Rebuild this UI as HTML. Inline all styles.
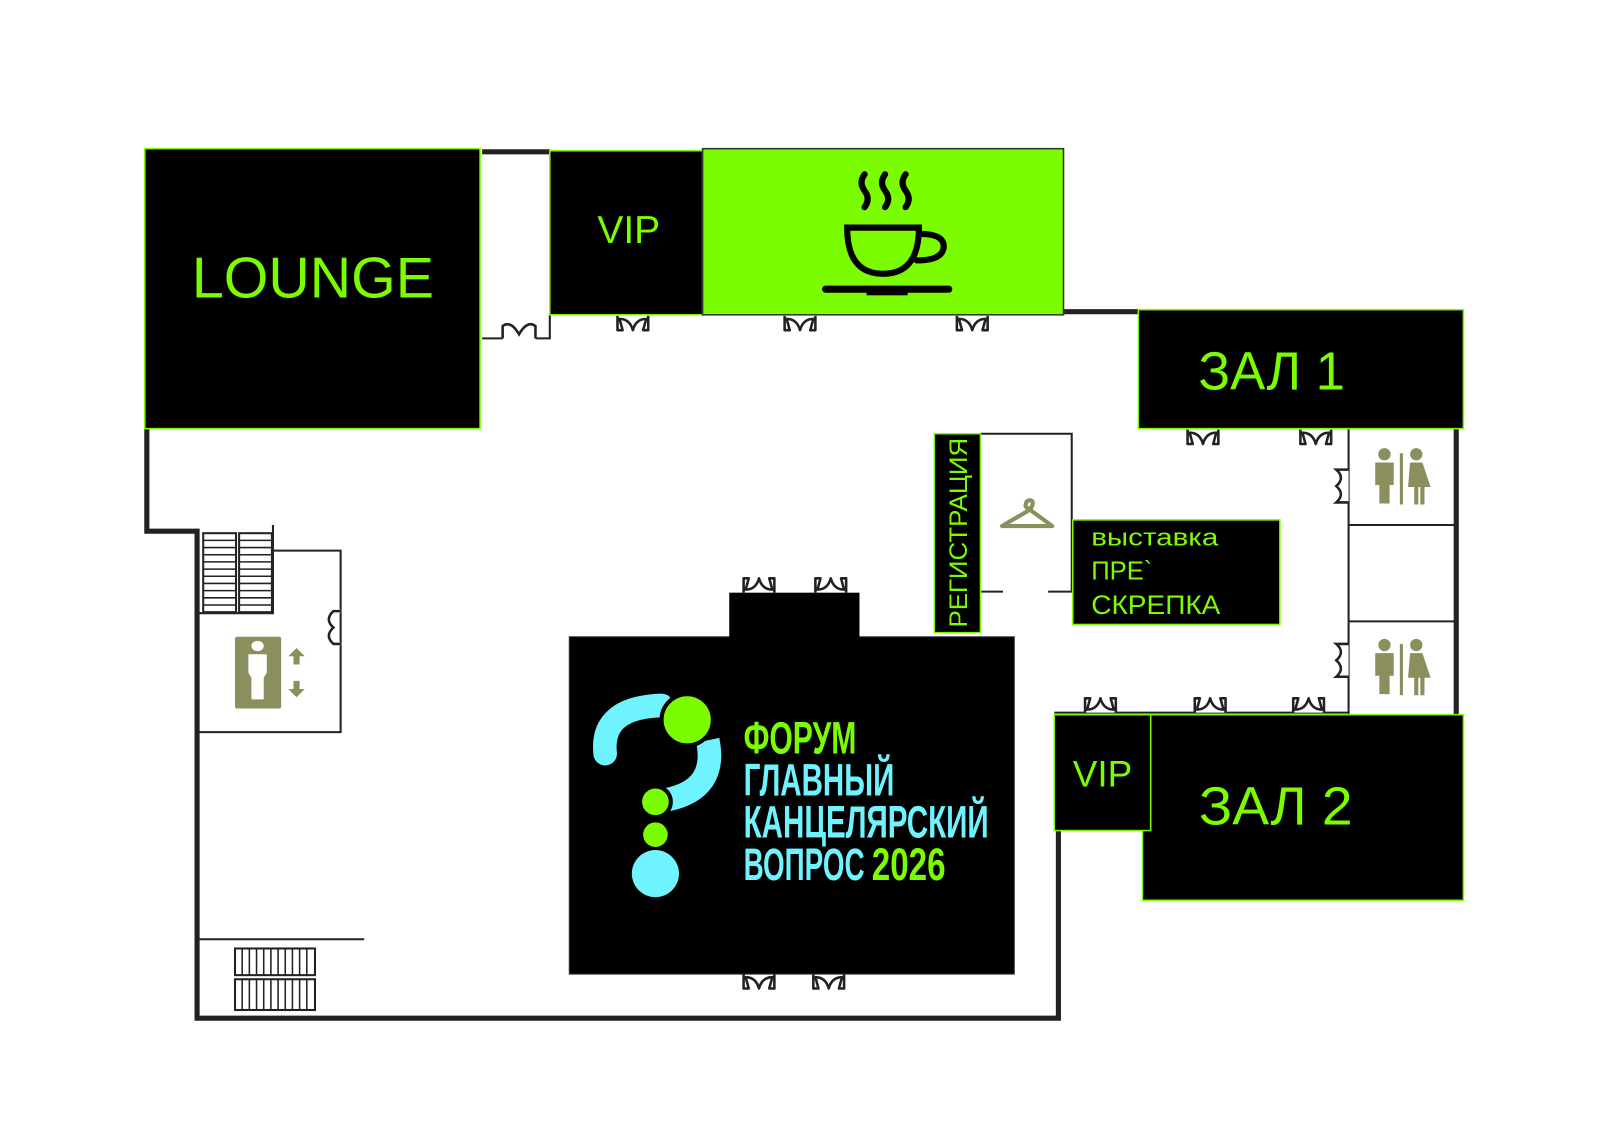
<!DOCTYPE html>
<html><head><meta charset="utf-8"><style>
html,body{margin:0;padding:0;background:#fff;}
svg{display:block}
</style></head><body>
<svg width="1600" height="1131" viewBox="0 0 1560 1103" xmlns="http://www.w3.org/2000/svg">
<defs>
<g id="dd"><path d="M-15,0 V14 H-10 L-13,3 Q-3,3 0,14 Q3,3 13,3 L10,14 H15 V0" fill="#fff" stroke="#222" stroke-width="2.5" stroke-linejoin="round"/></g>
<g id="wc" fill="#8b8f5e">
<circle cx="12" cy="6" r="6"/><path d="M3,14 h18 v22 h-4 v18 h-10 v-18 h-4z"/>
<rect x="27" y="5" width="3" height="50"/>
<circle cx="43" cy="6" r="6"/><path d="M37,14 h12 l8,24 h-6 v17 h-4 v-17 h-2 v17 h-4 v-17 h-6z"/>
</g>
</defs>
<rect width="1560" height="1103" fill="#fff"/>
<!-- walls -->
<g fill="none" stroke="#222" stroke-width="5">
<path d="M143,418 V518 H192 V993 H1032 V810"/>
<path d="M1420,418 V697"/>
<path d="M470,148 H536"/>
<path d="M1037,304 H1110"/>
</g>
<g fill="none" stroke="#222" stroke-width="2">
<path d="M470,330 H490 M536,307 V330 H522"/>
<path d="M956,423 H1045 V577 H1022 M956,577 H978"/>
<path d="M1315,418 V697 M1315,512 H1420 M1315,606 H1420"/>
<path d="M266,537 H332 V714 H192 M266,512 V598 H192"/>
<path d="M192,916 H355"/>
<path d="M1028,695 H1315"/>
</g>
<!-- stairs -->
<g fill="#fff" stroke="#222" stroke-width="2">
<rect x="198" y="520" width="32" height="77"/><rect x="233" y="520" width="32" height="77"/>
<path d="M198,527h32M198,534h32M198,541h32M198,548h32M198,555h32M198,562h32M198,569h32M198,576h32M198,583h32M198,590h32 M233,527h32M233,534h32M233,541h32M233,548h32M233,555h32M233,562h32M233,569h32M233,576h32M233,583h32M233,590h32" stroke-width="1.5"/>
<rect x="229" y="925" width="78" height="26"/><rect x="229" y="955" width="78" height="30"/>
<path d="M236,925v26M243,925v26M250,925v26M257,925v26M264,925v26M271,925v26M278,925v26M285,925v26M292,925v26M299,925v26 M236,955v30M243,955v30M250,955v30M257,955v30M264,955v30M271,955v30M278,955v30M285,955v30M292,955v30M299,955v30" stroke-width="1.5"/>
</g>
<!-- elevator -->
<rect x="229" y="621" width="45" height="70" rx="2" fill="#8b8f5e"/>
<ellipse cx="251" cy="630" rx="6" ry="5" fill="#fff"/>
<path d="M242,638 h18 v18 l-3,5 v21 h-12 v-21 l-3,-5z" fill="#fff"/>
<path d="M289,632 l-8,8 h5 v8 h6 v-8 h5z M289,680 l-8,-8 h5 v-8 h6 v8 h5z" fill="#8b8f5e"/>
<!-- doors -->
<path d="M318,596 h14 M318,628 h14" stroke="#fff" stroke-width="3"/>
<path d="M332,596 H325 Q316,604 325,612 Q316,620 325,628 H332" fill="none" stroke="#222" stroke-width="2.5"/>
<path d="M490,330 V318 Q498,312 506,326 Q514,312 522,318 V330" fill="none" stroke="#222" stroke-width="2.5"/>
<use href="#dd" x="617" y="308"/><use href="#dd" x="780" y="308"/><use href="#dd" x="948" y="308"/>
<use href="#dd" x="1173" y="419"/><use href="#dd" x="1283" y="419"/>
<use href="#dd" x="740" y="950"/><use href="#dd" x="808" y="950"/>
<g transform="translate(740,578) scale(1,-1)"><use href="#dd"/></g>
<g transform="translate(810,578) scale(1,-1)"><use href="#dd"/></g>
<g transform="translate(1073,695) scale(1,-1)"><use href="#dd"/></g>
<g transform="translate(1180,695) scale(1,-1)"><use href="#dd"/></g>
<g transform="translate(1276,695) scale(1,-1)"><use href="#dd"/></g>
<path d="M1315,458 H1303 Q1312,466 1303,474 Q1312,482 1303,490 H1315" fill="#fff" stroke="#222" stroke-width="2.5"/>
<path d="M1315,628 H1303 Q1312,636 1303,644 Q1312,652 1303,660 H1315" fill="#fff" stroke="#222" stroke-width="2.5"/>
<use href="#wc" x="1338" y="437"/><use href="#wc" x="1338" y="623"/>
<!-- rooms -->
<g stroke="#7cfc00" stroke-width="1.5">
<rect x="141" y="145" width="327" height="273" fill="#000"/>
<rect x="536" y="147" width="149" height="160" fill="#000"/>
<rect x="685" y="145" width="352" height="162" fill="#7cfc00" stroke="#333"/>
<rect x="1110" y="302" width="317" height="116" fill="#000"/>
<rect x="911" y="423" width="45" height="194" fill="#000"/>
<rect x="1046" y="507" width="202" height="102" fill="#000"/>
<rect x="1114" y="697" width="313" height="181" fill="#000"/>
<rect x="1028" y="697" width="94" height="113" fill="#000"/>
</g>
<rect x="555" y="621" width="434" height="329" fill="#000" stroke="#333"/>
<rect x="711" y="578" width="127" height="44" fill="#000"/>
<!-- hanger -->
<path d="M1000,494 q0,-7 5,-6 q4,1 0,8 l-4,3 l-24,14 h49 z" fill="none" stroke="#8b8f5e" stroke-width="4" stroke-linejoin="round"/>
<!-- coffee -->
<g fill="none" stroke="#000" stroke-width="6" stroke-linecap="round">
<path d="M843,170 q-6,8 0,16 q6,8 0,16 M863,170 q-6,8 0,16 q6,8 0,16 M883,170 q-6,8 0,16 q6,8 0,16"/>
<path d="M826,222 h70 q0,45 -35,45 q-35,0 -35,-45z"/>
<path d="M896,228 q26,0 24,14 q-2,12 -26,12"/>
<path d="M805,282 h120" stroke-width="7"/>
</g>
<rect x="845" y="282" width="40" height="6" fill="#000"/>
<!-- labels -->
<g font-family="'Liberation Sans','DejaVu Sans',sans-serif" fill="#7cfc00">
<text x="305" y="290" font-size="56" text-anchor="middle" textLength="236" lengthAdjust="spacingAndGlyphs">LOUNGE</text>
<text x="613" y="237" font-size="38" text-anchor="middle">VIP</text>
<text x="1240" y="380" font-size="52" text-anchor="middle" textLength="143" lengthAdjust="spacingAndGlyphs">ЗАЛ 1</text>
<text x="1244" y="804" font-size="52" text-anchor="middle" textLength="150" lengthAdjust="spacingAndGlyphs">ЗАЛ 2</text>
<text x="1075" y="767" font-size="36" text-anchor="middle">VIP</text>
<text x="1064" y="532" font-size="23" textLength="124" lengthAdjust="spacingAndGlyphs">выставка</text>
<text x="1064" y="565" font-size="25">ПРЕ`</text>
<text x="1064" y="599" font-size="26" textLength="126" lengthAdjust="spacingAndGlyphs">СКРЕПКА</text>
<text transform="translate(943,612) rotate(-90)" font-size="24" textLength="185" lengthAdjust="spacingAndGlyphs">РЕГИСТРАЦИЯ</text>
</g>
<!-- logo -->
<g fill="none" stroke="#6ff3ff" stroke-width="23" stroke-linecap="round">
<path d="M590,735 Q585,690 645,688"/>
<path d="M690,722 Q700,770 650,780" stroke-linecap="butt"/>
</g>
<circle cx="670" cy="702" r="25" fill="#7cfc00" stroke="#000" stroke-width="4"/>
<circle cx="639" cy="782" r="15" fill="#7cfc00" stroke="#000" stroke-width="4"/>
<circle cx="639" cy="814" r="12" fill="#7cfc00"/>
<circle cx="639" cy="852" r="23" fill="#6ff3ff"/>
<g font-family="'Liberation Sans Narrow','Liberation Sans',sans-serif" font-weight="bold" font-size="44">
<text x="725" y="735" fill="#7cfc00" textLength="110" lengthAdjust="spacingAndGlyphs">ФОРУМ</text>
<text x="725" y="776" fill="#6ff3ff" textLength="147" lengthAdjust="spacingAndGlyphs">ГЛАВНЫЙ</text>
<text x="725" y="817" fill="#6ff3ff" textLength="239" lengthAdjust="spacingAndGlyphs">КАНЦЕЛЯРСКИЙ</text>
<text x="725" y="858" fill="#6ff3ff" textLength="118" lengthAdjust="spacingAndGlyphs">ВОПРОС</text>
<text x="850" y="858" fill="#7cfc00" textLength="72" lengthAdjust="spacingAndGlyphs">2026</text>
</g>
</svg>
</body></html>
